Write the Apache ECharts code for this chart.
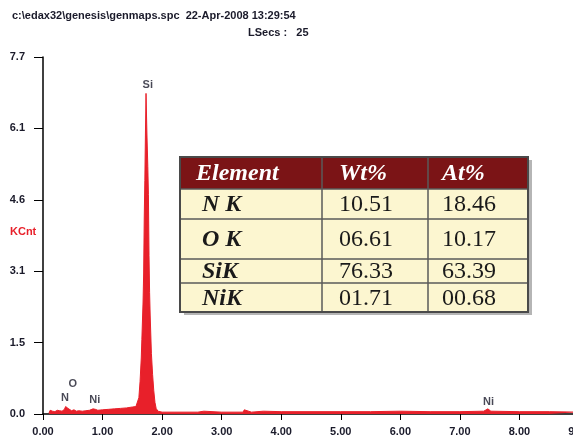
<!DOCTYPE html>
<html>
<head>
<meta charset="utf-8">
<script src="https://cdn.jsdelivr.net/npm/echarts@6/dist/echarts.min.js"></script>
<style>
html,body{margin:0;padding:0;background:#fff;}
#Spec{width:573px;height:443px;}
</style>
</head>
<body>
<div id="Spec"></div>
<script>
// spectrum: energy (keV) and counts (KCnt)
var energy = [0.10,0.12,0.14,0.16,0.20,0.24,0.26,0.28,0.32,0.36,0.38,0.40,0.42,0.44,0.48,0.52,0.56,0.60,0.66,0.72,0.78,0.84,0.86,0.88,0.92,1.00,1.10,1.20,1.30,1.40,1.50,1.56,1.59,1.61,1.63,1.65,1.66,1.68,1.69,1.70,1.71,1.72,1.73,1.745,1.76,1.77,1.78,1.79,1.80,1.82,1.84,1.86,1.88,1.90,1.93,1.96,2.00,2.20,2.22,2.60,2.70,3.00,3.36,3.38,3.50,3.70,4.00,4.50,5.00,5.50,6.00,6.50,7.00,7.40,7.47,7.52,8.00,8.50,9.00];
var counts = [0.02,0.08,0.04,0.06,0.05,0.08,0.12,0.07,0.06,0.10,0.16,0.18,0.12,0.08,0.07,0.09,0.06,0.07,0.06,0.07,0.08,0.11,0.13,0.10,0.08,0.09,0.10,0.11,0.12,0.13,0.15,0.16,0.20,0.35,0.70,1.20,1.60,2.40,3.00,4.20,5.00,6.00,6.87,6.00,5.30,4.70,3.40,2.60,2.10,1.30,0.85,0.50,0.25,0.12,0.06,0.04,0.04,0.04,0.07,0.04,0.06,0.04,0.04,0.09,0.04,0.06,0.05,0.05,0.05,0.05,0.06,0.05,0.05,0.06,0.11,0.06,0.05,0.05,0.04];

// peak labels
var peakNames = ['Si','N','O','Ni','Ni'];
var peakPos = [[1.76,7.05],[0.37,0.34],[0.50,0.65],[0.87,0.30],[7.48,0.26]];

var yTickLabels = ['0.0','1.5','3.1','4.6','6.1','7.7'];

// quantification table
var tableHead = ['Element','Wt%','At%'];
var tableElem = ['N K','O K','SiK','NiK'];
var tableWt = ['10.51','06.61','76.33','01.71'];
var tableAt = ['18.46','10.17','63.39','00.68'];

var specData = energy.map(function(e,i){ return [e, counts[i]]; });
var labelData = peakPos.map(function(p,i){ return {name: peakNames[i], value: p}; });

// table drawing
var colX = [180,322,428,528];
var rowY = [157,189,219,259,283,312];
var tbl = [];
tbl.push({type:'rect', shape:{x:colX[0]+4,y:rowY[0]+3,width:colX[3]-colX[0],height:rowY[5]-rowY[0]}, style:{fill:'#b5b5b5'}});
tbl.push({type:'rect', shape:{x:colX[0],y:rowY[1],width:colX[3]-colX[0],height:rowY[5]-rowY[1]}, style:{fill:'#fcf6d0'}});
tbl.push({type:'rect', shape:{x:colX[0],y:rowY[0],width:colX[3]-colX[0],height:rowY[1]-rowY[0]}, style:{fill:'#7b1416'}});
for (var r = 1; r < rowY.length - 1; r++) {
	tbl.push({type:'line', shape:{x1:colX[0],y1:rowY[r],x2:colX[3],y2:rowY[r]}, style:{stroke:'#5a5a5a',lineWidth:1.5}});
}
for (var c = 1; c < colX.length - 1; c++) {
	tbl.push({type:'line', shape:{x1:colX[c],y1:rowY[0],x2:colX[c],y2:rowY[5]}, style:{stroke:'#5a5a5a',lineWidth:1.5}});
}
tbl.push({type:'rect', shape:{x:colX[0],y:rowY[0],width:colX[3]-colX[0],height:rowY[5]-rowY[0]}, style:{fill:null,stroke:'#4a4a4a',lineWidth:2}});
var textX = [196,339,442];
tableHead.forEach(function(t,i){
	tbl.push({type:'text', style:{x:textX[i],y:(rowY[0]+rowY[1])/2+1,text:t,fill:'#fff',font:'italic bold 24px "Liberation Serif"',textVerticalAlign:'middle'}});
});
for (var k = 0; k < tableElem.length; k++) {
	var cy = (rowY[k+1]+rowY[k+2])/2 + 1;
	tbl.push({type:'text', style:{x:202,y:cy,text:tableElem[k],fill:'#1a1a1a',font:'italic bold 24px "Liberation Serif"',textVerticalAlign:'middle'}});
	tbl.push({type:'text', style:{x:textX[1],y:cy,text:tableWt[k],fill:'#1a1a1a',font:'24px "Liberation Serif"',textVerticalAlign:'middle'}});
	tbl.push({type:'text', style:{x:textX[2],y:cy,text:tableAt[k],fill:'#1a1a1a',font:'24px "Liberation Serif"',textVerticalAlign:'middle'}});
}
// y axis unit
tbl.push({type:'text', style:{x:10,y:232,text:'KCnt',fill:'#e8202a',font:'bold 11px "Liberation Sans"',textVerticalAlign:'middle'}});

var myChart = echarts.init(document.getElementById('Spec'));
var option = {
	animation: false,
	title: [{
		text: 'c:\\edax32\\genesis\\genmaps.spc  22-Apr-2008 13:29:54',
		left: 12, top: 10, padding: 0,
		textStyle: {fontFamily: 'Liberation Sans', fontSize: 11, fontWeight: 'bold', color: '#1a1a2a'}
	},{
		text: 'LSecs :   25',
		left: 248, top: 27, padding: 0,
		textStyle: {fontFamily: 'Liberation Sans', fontSize: 11, fontWeight: 'bold', color: '#1a1a2a'}
	}],
	grid: {left: 43, right: -6, top: 57, bottom: 29, outerBoundsMode: 'none', containLabel: false},
	xAxis: {
		type: 'value', min: 0, max: 9, interval: 1,
		axisLine: {lineStyle: {color: '#000', width: 1.5}},
		axisTick: {length: 6, lineStyle: {color: '#000'}},
		splitLine: {show: false},
		axisLabel: {
			margin: 12, color: '#1a1a2a', fontWeight: 'bold', fontSize: 11, fontFamily: 'Liberation Sans',
			formatter: function(v){ return v.toFixed(2); }
		}
	},
	yAxis: {
		type: 'value', min: 0, max: 7.65, interval: 1.53,
		axisLine: {show: true, lineStyle: {color: '#000', width: 1.5}},
		axisTick: {show: true, length: 9, lineStyle: {color: '#000'}},
		splitLine: {show: false},
		axisLabel: {
			margin: 18, color: '#1a1a2a', fontWeight: 'bold', fontSize: 11, fontFamily: 'Liberation Sans',
			formatter: function(v, i){ return yTickLabels[i]; }
		}
	},
	series: [{
		name: 'spectrum', type: 'line', data: specData,
		showSymbol: false, symbol: 'none',
		lineStyle: {color: '#e8202a', width: 1},
		areaStyle: {color: '#e8202a', opacity: 1}
	},{
		name: 'peaks', type: 'scatter', data: labelData, symbolSize: 0,
		label: {
			show: true, position: 'inside', formatter: '{b}',
			color: '#1a1a2a', fontWeight: 'bold', fontSize: 11, fontFamily: 'Liberation Sans'
		}
	}],
	graphic: tbl
};
myChart.setOption(option);
</script>
</body>
</html>
